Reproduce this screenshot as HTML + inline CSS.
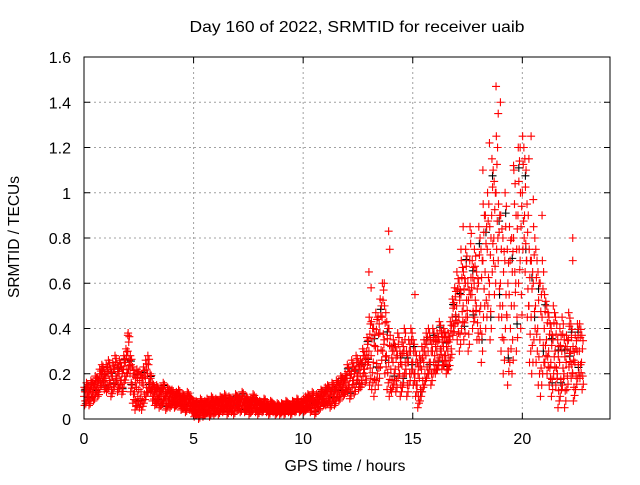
<!DOCTYPE html>
<html><head><meta charset="utf-8"><style>
body{margin:0;background:#fff}
svg text{font-family:"Liberation Sans",sans-serif;font-size:16px;fill:#000}
</style></head><body>
<svg id="chart" width="640" height="480" viewBox="0 0 640 480" xmlns="http://www.w3.org/2000/svg">
<rect width="640" height="480" fill="#fff"/>
<text x="357" y="32" text-anchor="middle" textLength="335" lengthAdjust="spacingAndGlyphs">Day 160 of 2022, SRMTID for receiver uaib</text>
<text x="345" y="471" text-anchor="middle" textLength="121" lengthAdjust="spacingAndGlyphs">GPS time / hours</text>
<text transform="translate(19,237) rotate(-90)" text-anchor="middle" textLength="122" lengthAdjust="spacingAndGlyphs">SRMTID / TECUs</text>
<g id="grid"></g>
<g id="ticks"></g>
<g id="marks"></g>
<rect x="84" y="57" width="526" height="362" fill="none" stroke="#000" stroke-width="1"/>
</svg>
<script>
const xTicks=[0,5,10,15,20];
const yTicks=[0,0.2,0.4,0.6,0.8,1,1.2,1.4,1.6];
const yTickLabels=["0","0.2","0.4","0.6","0.8","1","1.2","1.4","1.6"];
const tStart=0, tStep=0.1;
const midValues=[0.1,0.12,0.1,0.13,0.12,0.15,0.14,0.18,0.2,0.17,
0.18,0.2,0.16,0.19,0.22,0.18,0.2,0.17,0.22,0.25,
0.3,0.2,0.15,0.12,0.14,0.13,0.12,0.15,0.18,0.2,
0.16,0.12,0.1,0.11,0.09,0.1,0.12,0.08,0.1,0.09,
0.1,0.08,0.09,0.1,0.07,0.08,0.06,0.09,0.07,0.06,
0.04,0.05,0.03,0.06,0.04,0.05,0.06,0.04,0.07,0.05,
0.06,0.05,0.07,0.06,0.08,0.05,0.07,0.06,0.05,0.08,
0.07,0.06,0.09,0.06,0.07,0.05,0.06,0.08,0.06,0.05,
0.06,0.05,0.07,0.05,0.04,0.06,0.05,0.04,0.05,0.04,
0.05,0.04,0.06,0.05,0.04,0.06,0.05,0.07,0.05,0.06,
0.06,0.07,0.08,0.06,0.09,0.05,0.08,0.07,0.1,0.09,
0.1,0.11,0.09,0.12,0.1,0.13,0.12,0.15,0.14,0.16,
0.18,0.15,0.2,0.17,0.22,0.19,0.2,0.25,0.22,0.3,
0.3,0.28,0.25,0.32,0.3,0.38,0.45,0.35,0.28,0.25,
0.22,0.25,0.22,0.28,0.2,0.24,0.3,0.2,0.25,0.3,
0.25,0.2,0.15,0.18,0.22,0.25,0.28,0.3,0.25,0.3,
0.28,0.3,0.35,0.3,0.32,0.28,0.3,0.35,0.45,0.5,
0.5,0.45,0.55,0.5,0.6,0.45,0.7,0.55,0.6,0.5,
0.6,0.5,0.7,0.65,0.75,0.6,0.9,0.8,1.0,0.7,
0.6,0.5,0.7,0.45,0.55,0.5,0.8,0.6,0.9,0.7,
1.0,0.9,0.7,0.5,0.45,0.6,0.5,0.4,0.35,0.45,
0.4,0.35,0.3,0.25,0.35,0.3,0.2,0.25,0.3,0.2,
0.25,0.35,0.3,0.2,0.25,0.3,0.3,0.25];
const hourSpread=[0.04,0.06,0.08,0.04,0.03,0.03,0.03,0.03,0.02,0.02,0.03,0.04,0.06,0.15,0.1,0.1,0.08,0.15,0.25,0.3,0.25,0.15,0.12];
const outlierT=[13.9,18.8,18.9,18.5,20.4,20.3,19.9,22.3,22.3,13,17.3,15.1,20.9,2.0,17.2,18.2,19.6,20.5,13.95,19.0,13.1,13.7];
const outlierV=[0.83,1.47,1.35,1.22,1.25,1.15,1.2,0.8,0.7,0.65,0.85,0.55,0.9,0.37,0.75,1.1,1.12,0.97,0.75,1.4,0.58,0.6];

const X=t=>84+t*(526/24);
const Y=v=>419-v*(362/1.6);
const NS="http://www.w3.org/2000/svg";
const grid=document.getElementById('grid'), ticks=document.getElementById('ticks'), marks=document.getElementById('marks');
function line(p,x1,y1,x2,y2,st,dash){const l=document.createElementNS(NS,'line');l.setAttribute('x1',x1);l.setAttribute('y1',y1);l.setAttribute('x2',x2);l.setAttribute('y2',y2);l.setAttribute('stroke',st);if(dash)l.setAttribute('stroke-dasharray',dash);p.appendChild(l);return l;}
function txt(p,x,y,s,a){const e=document.createElementNS(NS,'text');e.setAttribute('x',x);e.setAttribute('y',y);e.setAttribute('text-anchor',a);e.textContent=s;p.appendChild(e);return e;}
yTicks.forEach((v,i)=>{
  if(i>0&&i<yTicks.length-1){const g=line(grid,84,Y(v),610,Y(v),'#a0a0a0','2,3');
  
  }
  line(ticks,84,Y(v),90,Y(v),'#000');line(ticks,604,Y(v),610,Y(v),'#000');
  const t=txt(ticks,71,Y(v)+6,yTickLabels[i],'end');
  
  
});
xTicks.forEach(v=>{
  if(v>0){const g=line(grid,X(v),57,X(v),419,'#a0a0a0','2,3');
  
  }
  line(ticks,X(v),419,X(v),413,'#000');line(ticks,X(v),57,X(v),63,'#000');
  const t=txt(ticks,X(v),444,String(v),'middle');
  
  
});
function plus(t,v,c){
  const x=X(t),y=Y(Math.max(0,v));
  const p=document.createElementNS(NS,'path');
  p.setAttribute('d',`M${x-4} ${y}H${x+4}M${x} ${y-4}V${y+4}`);
  p.setAttribute('stroke',c);p.setAttribute('stroke-width','1.1');
  
  
  marks.appendChild(p);
}
const offs=[0,1,-1,0.5,-0.5,0.8,-0.8];
midValues.forEach((v,i)=>{const t=tStart+i*tStep;const s=hourSpread[Math.min(hourSpread.length-1,Math.floor(t))];
  if(i%3===0)plus(t+0.04,v+s*0.7,'#000');if(i%4===1)plus(t+0.06,v-s*0.6,'#000');});
midValues.forEach((v,i)=>{const t=tStart+i*tStep;const s=hourSpread[Math.min(hourSpread.length-1,Math.floor(t))];
  offs.forEach((o,k)=>plus(t+k*0.014,v+o*s,'#f00'));});
outlierT.forEach((t,i)=>plus(t,outlierV[i],'#f00'));
</script>
</body></html>
